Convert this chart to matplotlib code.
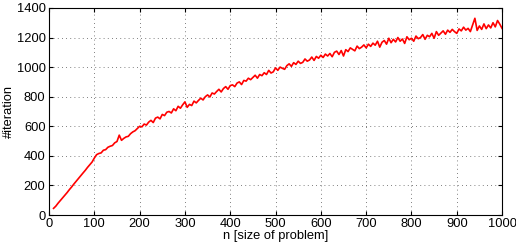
import matplotlib
matplotlib.use("Agg")
import matplotlib.pyplot as plt
import numpy as np

plt.rcParams['font.family'] = ['Liberation Sans', 'DejaVu Sans']

# problem size n (step 5) and measured iteration counts
n_values = np.arange(10, 1001, 5)
iterations = [
    45, 60, 80, 98, 117, 135, 152, 172, 190, 210, 228, 247, 266, 284, 302, 322, 340, 358, 385,
    408, 416, 420, 438, 442, 458, 465, 470, 488, 497, 540, 505, 518, 528, 532, 550, 562, 570, 585, 600,
    596, 615, 608, 628, 640, 625, 655, 662, 650, 680, 672, 695, 700, 690, 718, 705, 735, 722, 745, 765,
    728, 748, 740, 770, 758, 775, 790, 778, 800, 812, 798, 825, 818, 835, 850, 832, 855, 868, 850, 875,
    880, 868, 892, 900, 882, 910, 905, 925, 915, 930, 945, 925, 950, 942, 962, 950, 978, 960, 968, 995,
    978, 1000, 992, 985, 1010, 1022, 1005, 1030, 1018, 1040, 1025, 1032, 1055, 1040, 1048, 1068, 1045, 1072, 1060, 1080,
    1065, 1088, 1075, 1092, 1070, 1100, 1108, 1085, 1112, 1075, 1118, 1105, 1130, 1120, 1110, 1142, 1125, 1135, 1150, 1130,
    1155, 1140, 1162, 1148, 1175, 1135, 1168, 1180, 1155, 1195, 1165, 1188, 1170, 1200, 1175, 1190, 1160, 1205, 1185, 1195,
    1175, 1210, 1192, 1200, 1220, 1188, 1215, 1205, 1228, 1195, 1240, 1215, 1230, 1245, 1222, 1250, 1235, 1255, 1240, 1228,
    1258, 1245, 1270, 1250, 1262, 1240, 1285, 1330, 1248, 1278, 1255, 1292, 1260, 1285, 1265, 1300, 1272, 1315, 1290, 1262,
]

fig = plt.figure(figsize=(5.16, 2.48), dpi=100)
ax = fig.add_axes([0.095, 0.133, 0.878, 0.835])
ax.plot(n_values, iterations, color='red', linewidth=1.2)

ax.set_xlim(0, 1000)
ax.set_ylim(0, 1400)
ax.set_xticks(np.arange(0, 1001, 100))
ax.set_yticks(np.arange(0, 1401, 200))
ax.grid(True, color='#555555', linestyle=(0, (1, 4)), linewidth=0.6)
ax.tick_params(direction='in', top=True, right=True, labelsize=9.3, length=3, pad=2.5)
ax.set_xlabel('n [size of problem]', fontsize=9.3, labelpad=0)
ax.set_ylabel('#iteration', fontsize=9.3)
ax.yaxis.set_label_coords(-0.075, 0.5)

fig.savefig('out.png', dpi=100)
